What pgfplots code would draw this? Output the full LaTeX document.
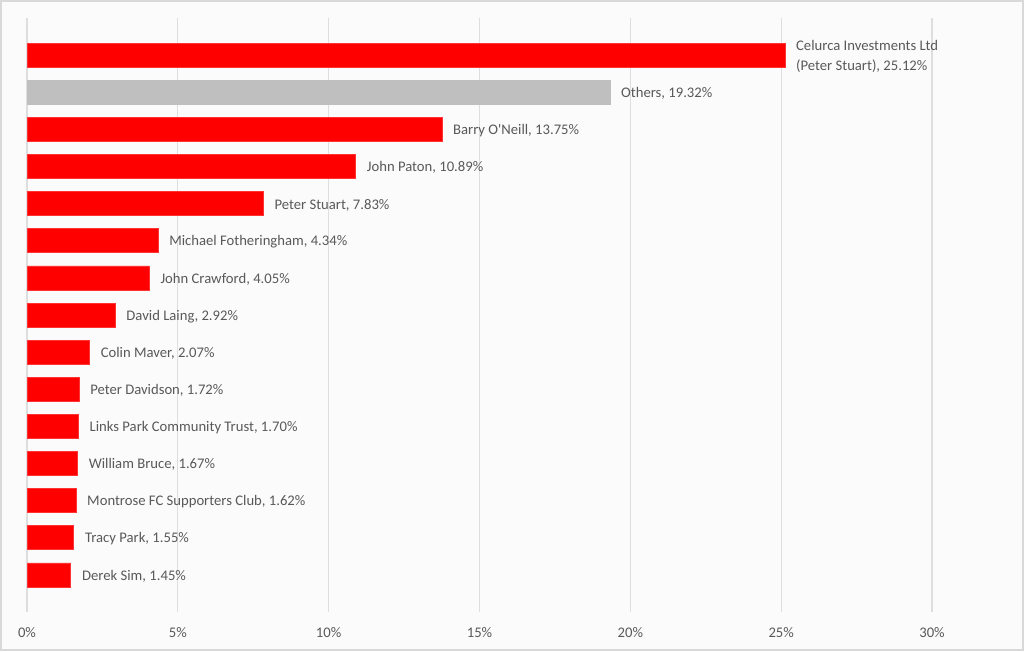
\documentclass[border=0pt]{standalone}
\usepackage{pgfplots}
\pgfplotsset{compat=1.18}
\usepackage{fontspec}
\setmainfont{Carlito}[Ligatures=TeXOff]
\definecolor{txt}{HTML}{595959}
\definecolor{gridc}{HTML}{DEDEDE}
\definecolor{barred}{HTML}{FF0000}
\definecolor{bargray}{HTML}{BFBFBF}
\begin{document}
\begin{tikzpicture}
\fill[white!98.5!black] (0pt,0pt) rectangle (768pt,488.25pt);
\draw[line width=1.5pt, color=black!15] (0.75pt,0.75pt) rectangle (767.25pt,487.5pt);
\begin{axis}[
  at={(20.25pt,29.25pt)}, anchor=south west,
  scale only axis, width=678.75pt, height=445.5pt,
  xmin=0, xmax=30, ymin=0, ymax=16,
  xtick={0,5,...,30},
  /pgf/number format/assume math mode=true,
  xticklabel={\pgfmathprintnumber{\tick}\%},
  xmajorgrids, grid style={color=gridc, line width=0.9pt},
  axis line style={draw=none},
  major tick length=0pt, ytick=\empty,
  xticklabel style={font=\fontsize{11}{13}\selectfont, text=txt, yshift=-8pt},
  xbar, bar width=18pt, bar shift=0pt,
  nodes near coords={\pgfplotspointmeta},
  point meta=explicit symbolic,
  every node near coord/.append style={font=\fontsize{11}{14.8}\selectfont, text=txt, anchor=west, xshift=5pt, yshift=-1pt, align=left},
  clip=false,
]
\addplot[fill=barred, draw=barred!80!white] coordinates {
 (25.12,15) [{Celurca Investments Ltd\\(Peter Stuart), 25.12\%}]
 (13.75,13) [{Barry O'Neill, 13.75\%}]
 (10.89,12) [{John Paton, 10.89\%}]
 (7.83,11) [{Peter Stuart, 7.83\%}]
 (4.34,10) [{Michael Fotheringham, 4.34\%}]
 (4.05,9) [{John Crawford, 4.05\%}]
 (2.92,8) [{David Laing, 2.92\%}]
 (2.07,7) [{Colin Maver, 2.07\%}]
 (1.72,6) [{Peter Davidson, 1.72\%}]
 (1.70,5) [{Links Park Community Trust, 1.70\%}]
 (1.67,4) [{William Bruce, 1.67\%}]
 (1.62,3) [{Montrose FC Supporters Club, 1.62\%}]
 (1.55,2) [{Tracy Park, 1.55\%}]
 (1.45,1) [{Derek Sim, 1.45\%}]
};
\addplot[fill=bargray, draw=bargray] coordinates {
 (19.32,14) [{Others, 19.32\%}]
};
\end{axis}
\end{tikzpicture}
\end{document}
